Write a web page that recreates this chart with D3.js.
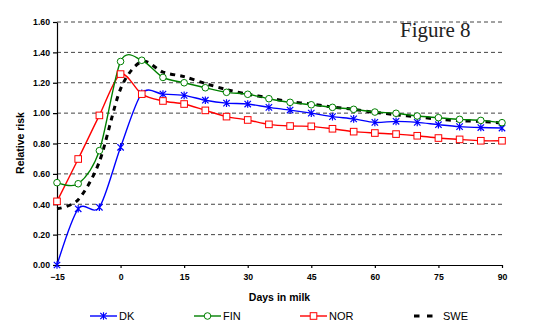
<!DOCTYPE html>
<html>
<head>
<meta charset="utf-8">
<script src="https://cdn.jsdelivr.net/npm/d3@7"></script>
<style>
  body { margin: 0; background: #fff; }
  svg { display: block; font-family: Arial, "Liberation Sans", sans-serif; }
</style>
</head>
<body>
<div class="container"></div>
<script>
// values
const days = [-15, -10, -5, 0, 5, 10, 15, 20, 25, 30, 35, 40, 45, 50, 55, 60, 65, 70, 75, 80, 85, 90];
const dk  = [0.00, 0.37, 0.38, 0.775, 1.13, 1.125, 1.117, 1.085, 1.066, 1.06, 1.038, 1.02, 1.00, 0.977, 0.962, 0.939, 0.946, 0.939, 0.924, 0.911, 0.905, 0.902];
const fin = [0.542, 0.535, 0.753, 1.34, 1.348, 1.235, 1.20, 1.167, 1.137, 1.124, 1.095, 1.071, 1.055, 1.038, 1.025, 1.007, 0.999, 0.981, 0.970, 0.959, 0.952, 0.937];
const nor = [0.419, 0.698, 0.985, 1.257, 1.125, 1.08, 1.06, 1.018, 0.977, 0.955, 0.926, 0.915, 0.913, 0.897, 0.878, 0.869, 0.862, 0.851, 0.836, 0.827, 0.818, 0.818];
const swe = [0.37, 0.43, 0.68, 1.16, 1.34, 1.27, 1.24, 1.195, 1.155, 1.125, 1.10, 1.075, 1.06, 1.04, 1.025, 1.005, 0.99, 0.975, 0.96, 0.95, 0.945, 0.935];
const yTicks = [0, 0.2, 0.4, 0.6, 0.8, 1.0, 1.2, 1.4, 1.6];
const xTicks = [-15, 0, 15, 30, 45, 60, 75, 90];

let series = [
  {name: 'DK', values: dk, color: '#0000ff', marker: 'star'},
  {name: 'FIN', values: fin, color: '#008000', marker: 'circle'},
  {name: 'NOR', values: nor, color: '#ff0000', marker: 'square'},
  {name: 'SWE', values: swe, color: '#000000', marker: 'none'}
];

let outerWidth = 534, outerHeight = 328;
let margin = {top: 22, right: 32, bottom: 63, left: 57};
let width = outerWidth - margin.left - margin.right,
    height = outerHeight - margin.top - margin.bottom;

let svg = d3.select('.container').append('svg')
  .attr('width', outerWidth)
  .attr('height', outerHeight);

let group = svg.append('g')
  .attr('transform', `translate(${margin.left},${margin.top})`);

let x = d3.scaleLinear().domain([-15, 90]).range([0, width]);
let y = d3.scaleLinear().domain([0, 1.6]).range([height, 0]);

// dashed gridlines
group.append('g').selectAll('line')
  .data(yTicks.filter(d => d > 0))
  .enter().append('line')
  .attr('x1', 0).attr('x2', width)
  .attr('y1', d => y(d)).attr('y2', d => y(d))
  .attr('stroke', '#444')
  .attr('stroke-width', 1)
  .attr('stroke-dasharray', '4,3');

// axes
let yAxis = d3.axisLeft(y).tickValues(yTicks).tickFormat(d3.format('.2f'))
  .tickSize(4).tickSizeOuter(0).tickPadding(3);
let xAxis = d3.axisBottom(x).tickValues(xTicks).tickFormat(d3.format('d'))
  .tickSize(3).tickSizeOuter(0).tickPadding(6);

let gy = group.append('g').call(yAxis);
let gx = group.append('g').attr('transform', `translate(0,${height})`).call(xAxis);
[gx, gy].forEach(g => {
  g.selectAll('path, line').attr('stroke', '#000').attr('stroke-width', 1.2);
  g.selectAll('text').attr('font-family', 'Arial, "Liberation Sans", sans-serif')
    .attr('font-size', 8.7).attr('font-weight', 'bold').attr('fill', '#000');
});
gx.select('.tick line').attr('stroke', 'none');

// axis titles
svg.append('text')
  .attr('x', (margin.left + margin.left + width) / 2)
  .attr('y', 301)
  .attr('text-anchor', 'middle')
  .attr('font-size', 10.5).attr('font-weight', 'bold')
  .text('Days in milk');

svg.append('text')
  .attr('transform', 'translate(24,143) rotate(-90)')
  .attr('text-anchor', 'middle')
  .attr('font-size', 10.5).attr('font-weight', 'bold')
  .text('Relative risk');

svg.append('text')
  .attr('x', 400).attr('y', 37)
  .attr('font-family', '"Liberation Serif", "Times New Roman", serif')
  .attr('font-size', 21)
  .attr('fill', '#222')
  .text('Figure 8');

// lines
let line = d3.line()
  .x((d, i) => x(days[i]))
  .y(d => y(d))
  .curve(d3.curveCardinal.tension(0.12));

function drawMarker(sel, type, color) {
  if (type === 'circle') {
    sel.append('circle').attr('r', 3.3)
      .attr('fill', '#fff').attr('stroke', color).attr('stroke-width', 1);
  } else if (type === 'square') {
    sel.append('rect').attr('x', -3.3).attr('y', -3.3).attr('width', 6.6).attr('height', 6.6)
      .attr('fill', '#fff').attr('stroke', color).attr('stroke-width', 1);
  } else if (type === 'star') {
    sel.append('path')
      .attr('d', 'M-3.2,-3.2L3.2,3.2M-3.2,3.2L3.2,-3.2M0,-3.8L0,3.8')
      .attr('stroke', color).attr('stroke-width', 1.2).attr('fill', 'none');
  }
}

// draw SWE first so markers of others sit on top
let order = [series[3], series[0], series[2], series[1]];
order.forEach(s => {
  group.append('path')
    .datum(s.values)
    .attr('d', line)
    .attr('fill', 'none')
    .attr('stroke', s.color)
    .attr('stroke-width', s.marker === 'none' ? 3 : 1.4)
    .attr('stroke-dasharray', s.marker === 'none' ? '5,5' : null);
});
order.forEach(s => {
  if (s.marker === 'none') return;
  group.append('g').selectAll('g')
    .data(s.values)
    .enter().append('g')
    .attr('transform', (d, i) => `translate(${x(days[i])},${y(d)})`)
    .each(function() { drawMarker(d3.select(this), s.marker, s.color); });
});

// legend
let legendX = [90, 194, 300, 414];
let legend = svg.append('g');
series.forEach((s, i) => {
  let g = legend.append('g').attr('transform', `translate(${legendX[i]},316)`);
  if (s.marker === 'none') {
    g.append('line').attr('x1', 0).attr('x2', 19).attr('y1', 0).attr('y2', 0)
      .attr('stroke', '#000').attr('stroke-width', 3).attr('stroke-dasharray', '5.5,7.5');
    g.append('text').attr('x', 29).attr('y', 4).attr('font-size', 11).text(s.name);
  } else {
    g.append('line').attr('x1', 0).attr('x2', 27).attr('y1', 0).attr('y2', 0)
      .attr('stroke', s.color).attr('stroke-width', 1.4);
    let m = g.append('g').attr('transform', 'translate(13.5,0)');
    drawMarker(m, s.marker, s.color);
    g.append('text').attr('x', 29).attr('y', 4).attr('font-size', 11).text(s.name);
  }
});
</script>
</body>
</html>
